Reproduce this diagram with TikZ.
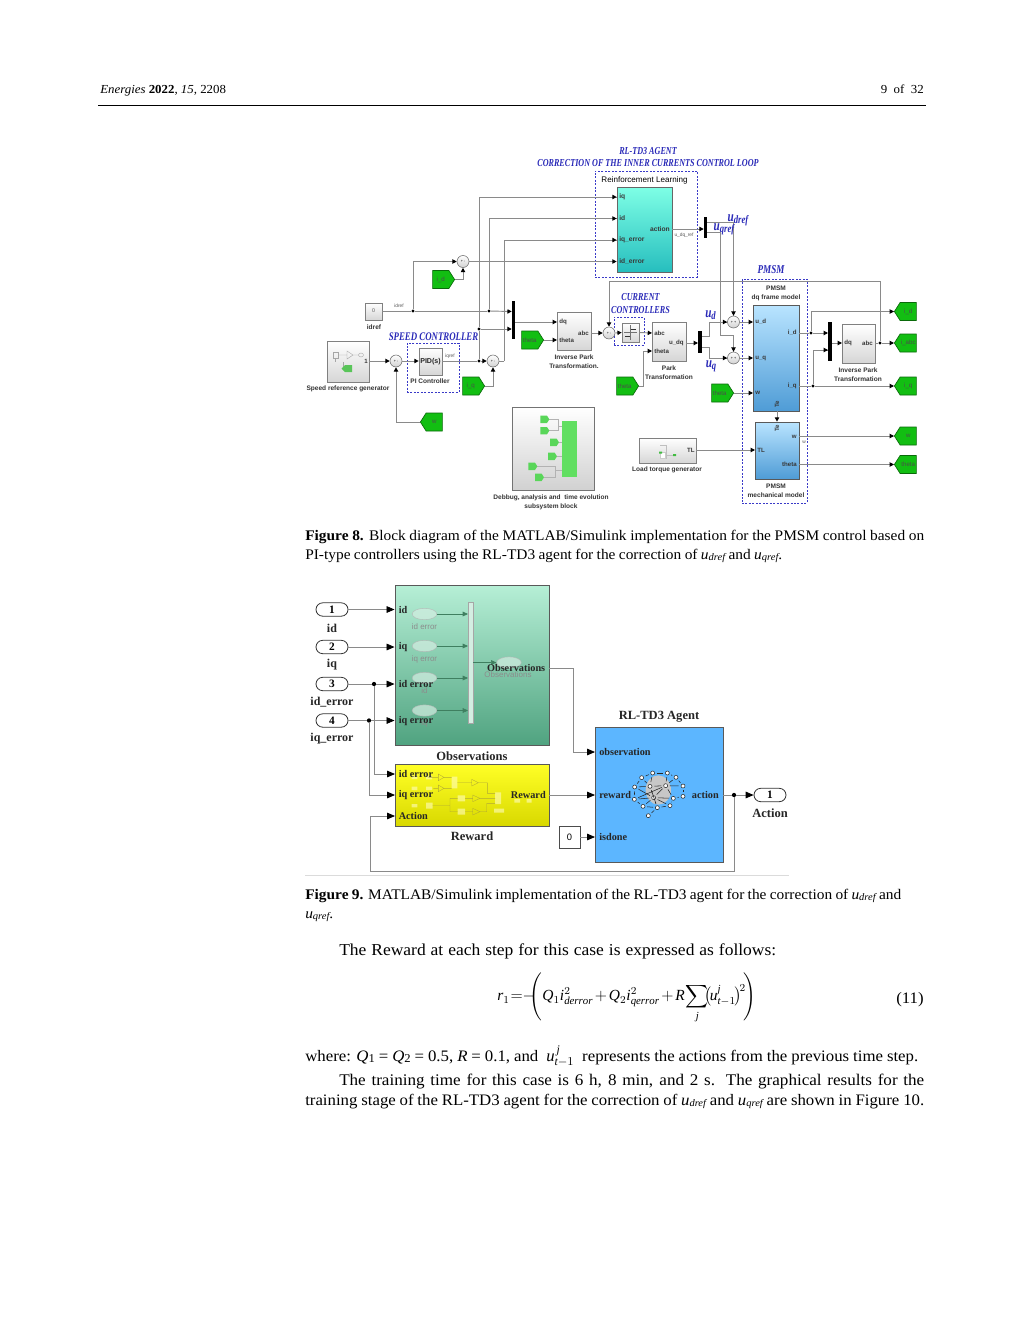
\documentclass[tikz,border=0pt]{standalone}
\usepackage{fontspec}
\usepackage{amsmath}
\usetikzlibrary{arrows.meta,shapes.symbols,shapes.geometric}
\setmainfont{Liberation Serif}
\setsansfont{Liberation Sans}
\newfontfamily\bodyf[FakeStretch=1.05]{Liberation Serif}
\newfontfamily\titlef[FakeStretch=0.76]{Liberation Serif}
\newcommand\fsz[1]{\fontsize{#1}{#1}\selectfont}
\newlength\pxunit \setlength\pxunit{0.75pt}
\newcommand\fitline[2]{\hbox to #1\pxunit{\spaceskip=0.24em plus 1fil minus 1fil\relax #2}}
\newcommand\usub[1]{{\itshape u\fsz{7.5}\raisebox{-0.8pt}{#1}}}
\definecolor{tagg}{HTML}{12BE12}
\definecolor{tagd}{HTML}{0A6A0A}
\definecolor{ttl}{HTML}{2A2AB8}
\definecolor{dashc}{HTML}{3A3AC8}
\definecolor{wiregray}{HTML}{8A8A8A}
\definecolor{dqtop}{HTML}{B9E4FF}
\definecolor{dqmid}{HTML}{A9DCFD}
\definecolor{dqbot}{HTML}{4F9CD6}
\definecolor{palegr}{HTML}{D4EEE2}
\tikzset{
  wire/.style={draw=wiregray,line width=.7pt},
  arr/.style={wire,-{Triangle[length=3.2pt,width=3.2pt,color=black]}},
  arrb/.style={draw=wiregray,line width=.6pt,-{Triangle[length=6pt,width=5pt,color=black]}},
  jdot/.style={circle,fill=black,inner sep=0pt,minimum size=2.4pt},
  jdotb/.style={circle,fill=black,inner sep=0pt,minimum size=3.2pt},
  sumn/.style={circle,draw=black!60,top color=white,bottom color=black!18,inner sep=0pt,minimum size=9pt,line width=.4pt,font=\sffamily\fsz{2.8}},
  blockn/.style={draw=black!50,line width=.5pt,inner sep=0pt,top color=white,bottom color=black!16},
  dashbox/.style={draw=dashc,dash pattern=on 1.5pt off 1.1pt,line width=.6pt,inner sep=0pt},
  gotag/.style={shape=signal,signal pointer angle=115,signal from=nowhere,draw=tagd,fill=tagg,line width=.5pt,inner sep=0pt,minimum width=16.5pt,minimum height=13.5pt,font=\sffamily\fsz{4.6}\color{black!70}},
  muxbar/.style={fill=black,draw=none,inner sep=0pt},
  sl/.style={font=\sffamily\bfseries\fsz{4.9},text=black!80,align=center,inner sep=0pt},
  pl/.style={font=\sffamily\bfseries\fsz{4.6},text=black!78,inner sep=0pt},
  tinyl/.style={font=\sffamily\fsz{3.6},text=black!65,inner sep=0pt},
  bt/.style={font=\titlef\bfseries\itshape\fsz{8},text=ttl,inner sep=0pt,align=center},
  ub/.style={font=\titlef\bfseries\itshape\fsz{11},text=ttl,inner sep=0pt},
  bl/.style={font=\bfseries\fsz{7.7},text=black!85,inner sep=0pt},
  bll/.style={font=\bfseries\fsz{9.4},text=black!85,inner sep=0pt},
  pilln/.style={rounded corners=5pt,draw=black!80,fill=white,line width=.6pt,inner sep=0pt,minimum width=24pt,minimum height=10pt,font=\bfseries\fsz{8.5}},
  txt/.style={font=\bodyf\fsz{12},inner sep=0pt,anchor=base west},
  capt/.style={font=\bodyf\fsz{11},inner sep=0pt,anchor=base west},
  ovaln/.style={ellipse,draw=black!30,fill=palegr,opacity=.7,inner sep=0pt,minimum width=18.5pt,minimum height=8.5pt},
  faint/.style={font=\sffamily\fsz{6},text=black!45,inner sep=0pt},
  arrg/.style={draw={rgb,255:red,63;green,127;blue,96},line width=.5pt,-{Triangle[length=4pt,width=3.5pt]}},
}
\newcommand\blk[6]{\node[#6,minimum width={(#4-#2)*0.75pt},minimum height={(#5-#3)*0.75pt}] (#1) at ({(#2+#4)/2},{(#3+#5)/2}) {};}
\begin{document}
\begin{tikzpicture}[x=.75pt,y=-.75pt]
\useasboundingbox (0,0) rectangle (1024,1325);
\fill[white] (0,0) rectangle (1024,1325);

% ---------- page header
\node[inner sep=0pt,anchor=base west,font=\bodyf\fsz{9.2}] (hdl) at (100,93) {\textit{Energies} \textbf{2022}, \textit{15}, 2208};
\node[inner sep=0pt,anchor=base east,font=\bodyf\fsz{9.2}] (hdr) at (924,93) {9\ \ of\ \ 32};
\coordinate (rule1) at (98,105.5); \coordinate (rule2) at (926,105.5);
\draw[line width=.6pt] (rule1) -- (rule2);

% ---------- FIGURE 8 titles
\node[bt] (t1) at (648,151) {RL-TD3 AGENT};
\node[bt] (t2) at (648,163.5) {CORRECTION OF THE INNER CURRENTS CONTROL LOOP};
\node[bt,font=\titlef\bfseries\itshape\fsz{9}] (t3) at (771,270) {PMSM};
\node[bt] (t4) at (640.5,297.5) {CURRENT};
\node[bt] (t5) at (640.5,310) {CONTROLLERS};
\node[bt,font=\titlef\bfseries\itshape\fsz{8.7}] (t6) at (433.5,336.5) {SPEED CONTROLLER};

% dashed groups
\blk{dRL}{595}{171}{697}{277}{dashbox}
\blk{dPMSM}{742}{279}{807}{503}{dashbox}
\blk{dCC}{614}{317}{644}{345}{dashbox}
\blk{dPI}{407}{343}{459}{392}{dashbox}

% blocks
\blk{rl}{617}{187}{672}{272}{draw=black!60,line width=.5pt,inner sep=0pt,top color=cyan!45!white!90!green,bottom color=cyan!70!black!85}
\node[font=\sffamily\fsz{6.05},text=black,inner sep=0pt] (rlt) at (644.5,180) {Reinforcement Learning};
\node[pl,anchor=west,font=\sffamily\bfseries\fsz{5}] (rl1) at (619,197) {iq};
\node[pl,anchor=west,font=\sffamily\bfseries\fsz{5}] (rl2) at (619,218.5) {id};
\node[pl,anchor=west,font=\sffamily\bfseries\fsz{5}] (rl3) at (619,240) {iq\_error};
\node[pl,anchor=west,font=\sffamily\bfseries\fsz{5}] (rl4) at (619,261.5) {id\_error};
\node[pl,anchor=east,font=\sffamily\bfseries\fsz{5}] (rl5) at (670,229) {action};
\node[tinyl] (rl6) at (684,235) {u\_dq\_ref};

\blk{cst}{365}{303}{382}{320}{blockn}
\node[tinyl,font=\sffamily\fsz{4}] (cst0) at (373.5,311) {0};
\node[sl] (cstl) at (374,327) {idref};
\node[tinyl] (idr) at (399,306) {idref};

\blk{spg}{327}{341}{369}{382}{blockn}
\node[pl,anchor=east] (spg1) at (368,361) {1};
\node[sl] (spgl) at (348,389) {Speed reference generator};
\draw[black!35,line width=.3pt] (333,352) rectangle (338,358) (335,358) -- (335,362);
\draw[black!35,line width=.3pt] (343,362) -- (343,369) -- (347,369);
\draw[black!35,line width=.3pt] (338,355) -- (347,355) (347,351) -- (353,355) -- (347,359) -- cycle (353,355) -- (359,355);
\draw[black!35,line width=.3pt] (361,355) ellipse (2.5 and 2);
\fill[green!65!black!65] (345,365) -- (352,365) -- (352,372) -- (345,372) -- (341.5,368.5) -- cycle;

\blk{pid}{419}{348}{442}{375}{blockn}
\node[font=\sffamily\bfseries\fsz{5.3},text=black!85,inner sep=0pt] (pidt) at (430.5,361.5) {PID(s)};
\node[sl] (pidl) at (430,381) {PI Controller};
\node[tinyl] (iqr) at (450,356) {iqref};

\node[sumn] (s1) at (463,261.5) {+\ -};
\node[sumn] (s2) at (396,361) {+\ -};
\node[sumn] (s3) at (493,361) {+\ -};
\node[sumn] (s4) at (609,333) {+\ -};
\node[sumn] (s5) at (733.5,322) {+\ +};
\node[sumn] (s6) at (733.5,358) {+\ +};

\node[gotag,signal to=east,anchor=east] (tid) at (455,279.5) {i\_d};
\node[gotag,signal to=east,anchor=east] (tiq) at (485,386) {i\_q};
\node[gotag,signal to=west,anchor=west] (tw) at (420,422) {w};
\node[gotag,signal to=east,anchor=east] (tth1) at (544,340) {theta};
\node[gotag,signal to=east,anchor=east] (tth2) at (639,386) {theta};
\node[gotag,signal to=east,anchor=east] (tth3) at (734,393) {theta};
\node[gotag,signal to=west,anchor=west] (oid) at (894,311.5) {i\_d};
\node[gotag,signal to=west,anchor=west] (oabc) at (894,343) {i\_abc};
\node[gotag,signal to=west,anchor=west] (oiq) at (894,386) {i\_q};
\node[gotag,signal to=west,anchor=west] (ow) at (894,436) {w};
\node[gotag,signal to=west,anchor=west] (oth) at (894,464.5) {theta};

\blk{mx1}{512}{301}{515}{339}{muxbar}
\blk{mx2}{704}{217}{707}{238}{muxbar}
\blk{mx3}{698}{331}{702}{353}{muxbar}
\blk{mx4}{828}{322}{832}{361}{muxbar}

\blk{ipk}{557}{312}{591}{350}{blockn}
\node[pl,anchor=west] (ipk1) at (559,322) {dq};
\node[pl,anchor=west] (ipk2) at (559,340) {theta};
\node[pl,anchor=east] (ipk3) at (589,333) {abc};
\node[sl] (ipkl) at (574,362) {Inverse Park\\[1.9pt]Transformation.};

\blk{rly}{622}{323}{639}{342}{blockn}
\draw[black!80,line width=.5pt] (625,336) -- (630,336) -- (630,329) -- (636,329);
\draw[black!55,line width=.25pt] (630,325) -- (630,340) (624,332.5) -- (637,332.5);

\blk{pk}{652}{322}{686}{361}{blockn}
\node[pl,anchor=west] (pk1) at (654,333) {abc};
\node[pl,anchor=west] (pk2) at (654,351) {theta};
\node[pl,anchor=east] (pk3) at (684,343) {u\_dq};
\node[sl] (pkl) at (669,373) {Park\\[1.9pt]Transformation};

\blk{dqm}{753}{305}{799}{411}{draw=black!65,line width=.5pt,inner sep=0pt,top color=dqtop,middle color=dqmid,bottom color=dqbot}
\node[sl] (dqml) at (776,293) {PMSM\\[1.9pt]dq frame model};
\node[pl,anchor=west] (dq1) at (755,322) {u\_d};
\node[pl,anchor=west] (dq2) at (755,358) {u\_q};
\node[pl,anchor=west] (dq3) at (755,393) {w};
\node[pl,anchor=east] (dq4) at (797,333) {i\_d};
\node[pl,anchor=east] (dq5) at (797,386) {i\_q};
\node[pl,rotate=90] (dq6) at (777,404) {Te};

\blk{mech}{755}{422}{799}{479}{draw=black!65,line width=.5pt,inner sep=0pt,top color=dqtop,middle color=dqmid,bottom color=dqbot}
\node[sl] (mechl) at (776,491) {PMSM\\[1.9pt]mechanical model};
\node[pl,rotate=90] (me1) at (777,428) {Te};
\node[pl,anchor=west] (me2) at (757,450) {TL};
\node[pl,anchor=east] (me3) at (797,437) {w};
\node[pl,anchor=east] (me4) at (797,464.5) {theta};
\node[tinyl] (me5) at (804,442) {w};

\blk{ltg}{639}{438}{696}{463}{blockn}
\node[pl,anchor=east] (ltg1) at (695,450) {TL};
\node[sl] (ltgl) at (667,470) {Load torque generator};
\draw[black!25,line width=.3pt] (660,445) -- (666,445) -- (666,455) -- (674,455) (666,455) -- (666,459);
\fill[white,draw=black!20,line width=.2pt] (660,452) rectangle (665,458);
\fill[green!65!black!75] (659,451.5) rectangle (662,453.5) (673,454) rectangle (676,456);

\blk{ipk2b}{842}{324}{875}{363}{blockn}
\node[pl,anchor=west] (ip1) at (844,343) {dq};
\node[pl,anchor=east] (ip2) at (873,343) {abc};
\node[sl] (ipl) at (858,375) {Inverse Park\\[1.9pt]Transformation};

\blk{dbg}{512}{407}{594}{490}{draw=black!55,line width=.6pt,inner sep=0pt,top color=white,bottom color=black!18}
\node[sl] (dbgl) at (551,502) {Debbug, analysis and\ \ time evolution\\[1.9pt]subsystem block};
\begin{scope}[shift={(300,140)},x=.25pt,y=-.25pt]
  \fill[green!80!black!62] (787,844) rectangle (830,1012);
  \draw[black!30,line width=.3pt] (748,838) -- (775,838) -- (775,860) -- (787,860) (748,872) -- (775,872) -- (775,860) (776,907) -- (787,907) (770,949) -- (787,949) (710,979) -- (765,979) -- (765,990) -- (787,990) (732,1012) -- (765,1012) -- (765,990);
  \foreach \a/\b in {721/838,721/872,750/907,744/949,685/979,705/1012}{
    \fill[green!75!black!65] (\a,\b-11) -- (\a+20,\b-11) -- (\a+27,\b) -- (\a+20,\b+11) -- (\a,\b+11) -- cycle;
  }
\end{scope}

% connector anchors for figure 8
\coordinate (p1) at (rl.west |- rl1); \coordinate (p2) at (rl.west |- rl2);
\coordinate (p3) at (rl.west |- rl3); \coordinate (p4) at (rl.west |- rl4);
\coordinate (rlo) at (672,229); \coordinate (mx2i) at (mx2.west |- rlo);
\coordinate (mx2a) at (707,222); \coordinate (mx2b) at (707,232);
\coordinate (bend1) at (720,335);
\coordinate (csto) at (382,311);
\node[jdot] (j1) at (413,311) {};
\node[jdot] (j2) at (489,311) {};
\node[jdot] (j3) at (479,329) {};
\node[jdot] (j4) at (479,361) {};
\coordinate (mx1a) at (mx1.west |- cst.east);
\coordinate (mx1b) at (mx1.west |- j3);
\coordinate (x504) at (504,361);
\coordinate (mx1o) at (515,322); \coordinate (ipki1) at (557,322); \coordinate (ipki2) at (557,340);
\coordinate (ipko) at (591,333);
\coordinate (top1) at (609,281); \coordinate (top2) at (880,281);
\node[jdot] (j5) at (880,343) {};
\coordinate (pki1) at (652,333); \coordinate (pki2) at (652,351); \coordinate (pko) at (686,343);
\coordinate (mx3i) at (698,343); \coordinate (mx3a) at (702,336); \coordinate (mx3b) at (702,347);
\coordinate (b709) at (709,336); \coordinate (b709b) at (709,347);
\coordinate (dqi1) at (753,322); \coordinate (dqi2) at (753,358); \coordinate (dqi3) at (753,393);
\coordinate (dqo1) at (799,333); \coordinate (dqo2) at (799,386);
\node[jdot] (j6) at (811,333) {};
\node[jdot] (j7) at (813,386) {};
\coordinate (mx4a) at (828,333); \coordinate (mx4b) at (828,350);
\coordinate (mx4o) at (832,343); \coordinate (ipi) at (842,343); \coordinate (ipo) at (875,343);
\coordinate (meo1) at (799,436); \coordinate (meo2) at (799,464.5);
\coordinate (mei) at (755,450); \coordinate (ltgo) at (696,450);

\draw[arr] (s1.east) -- (p4);
\draw[wire] (j4) -- (j3) |- (p1);
\draw[arr] (p1 -| j3) -- (p1);
\draw[wire] (j2) |- (p2); \draw[arr] (p2 -| j2) -- (p2);
\draw[wire] (x504) |- (p3); \draw[arr] (p3 -| x504) -- (p3);
\draw[wire] (s3.east) -- (x504);
\draw[arr] (j1) |- (s1.west);
\draw[arr] (tid.east) -| (s1.south);
\draw[wire] (csto) -- (j1) -- (j2);
\draw[arr] (j2) -- (mx1a);
\draw[arr] (j3) -- (mx1b);
\draw[arr] (mx1o) -- (ipki1);
\draw[arr] (tth1.east) -- (ipki2);
\draw[arr] (ipko) -- (s4.west);
\draw[arr] (spg.east |- s2) -- (s2.west);
\draw[arr] (tw.west) -| (s2.south);
\draw[arr] (s2.east) -- (pid.west |- s2);
\draw[wire] (pid.east |- s3) -- (j4);
\draw[arr] (j4) -- (s3.west);
\draw[arr] (tiq.east) -| (s3.south);
\draw[arr] (rlo) -- (mx2i);
\draw[wire] (mx2a) -| (s5.north);
\draw[arr] (s5.north |- 0,312) -- (s5.north);
\draw[wire] (mx2b) -| (bend1) -| (s6.north);
\draw[arr] (s6.north |- bend1) -- (s6.north);
\draw[wire] (top2) -- (top1);
\draw[arr] (top1) -- (s4.north);
\draw[wire] (j5) -- (top2);
\draw[arr] (s4.east) -- (rly.west);
\draw[arr] (rly.east) -- (pki1);
\draw[wire] (tth2.east) -| (643,351);
\draw[arr] (643,351) -- (pki2);
\draw[arr] (pko) -- (mx3i);
\draw[wire] (mx3a) -- (b709) |- (s5.west);
\draw[arr] (b709 |- s5) -- (s5.west);
\draw[wire] (mx3b) -- (b709b) |- (s6.west);
\draw[arr] (b709b |- s6) -- (s6.west);
\draw[arr] (s5.east) -- (dqi1);
\draw[arr] (s6.east) -- (dqi2);
\draw[arr] (tth3.east) -- (dqi3);
\draw[arr] (dqm.south -| me1) -- (mech.north -| me1);
\draw[wire] (dqo1) -- (j6);
\draw[arr] (j6) -- (mx4a);
\draw[wire] (j6) |- (oid.west);
\draw[arr] (j6 |- oid) -- (oid.west);
\draw[wire] (dqo2) -- (j7);
\draw[arr] (j7) -- (oiq.west);
\draw[wire] (j7) |- (mx4b);
\draw[arr] (j7 |- mx4b) -- (mx4b);
\draw[arr] (mx4o) -- (ipi);
\draw[wire] (ipo) -- (j5);
\draw[arr] (j5) -- (oabc.west);
\draw[arr] (meo1) -- (ow.west);
\draw[arr] (meo2) -- (oth.west);
\draw[arr] (ltgo) -- (mei);

% ---------- captions fig 8
\node[capt] (c81) at (305,540) {\fitline{619}{\textbf{Figure 8.} Block diagram of the MATLAB/Simulink implementation for the PMSM control based on}};
\node[capt] (c82) at (305,559) {\fitline{477}{PI-type controllers using the RL-TD3 agent for the correction of \usub{dref} and \usub{qref}.}};

% ---------- FIGURE 9
\blk{obs}{395}{585}{549}{745}{draw=black!65,line width=.7pt,inner sep=0pt,top color={rgb,255:red,182;green,239;blue,214},bottom color={rgb,255:red,80;green,163;blue,128}}
\blk{rew}{395}{764}{549}{826}{draw=black!65,line width=.7pt,inner sep=0pt,top color=yellow!85!white,bottom color=yellow!85!black}
\blk{agt}{595}{727}{723}{862}{draw=black!65,line width=.7pt,inner sep=0pt,fill={rgb,255:red,92;green,182;blue,255}}

\foreach \n/\y/\t/\l/\ly in {1/609.5/1/id/628,2/647/2/iq/665,3/684/3/id\_error/702,4/720.5/4/iq\_error/739}{
  \node[pilln] (in\n) at (332,\y) {\t};
  \node[bll,font=\bfseries\fsz{9}] (inl\n) at (332,\ly) {\l};
}
\node[pilln] (outp) at (770,795) {1};
\node[bll] (outl) at (770,813) {Action};
\node[bll] (obsl) at (472,756) {Observations};
\node[bll] (rewl) at (472,836) {Reward};
\node[bll] (agtl) at (659,717) {RL-TD3 Agent};

\foreach \n/\y/\t/\ly in {1/614/id error/627,2/646/iq error/659,3/678/id/691,4/710.5/iq/723}{
  \node[ovaln] (ov\n) at (424.5,\y) {};
  \node[faint] (ovl\n) at (424.5,\ly) {\t};
  \coordinate (ovm\n) at (468,\y);
  \draw[arrg] (ov\n.east) -- (ovm\n);
}
\blk{omx}{468}{602}{473}{723}{draw=black!35,line width=.4pt,inner sep=0pt,fill=palegr}
\node[ovaln] (ovo) at (509,662.5) {};
\coordinate (omxo) at (473,662.5);
\draw[arrg] (omxo) -- (ovo.west);
\node[faint] (o6) at (508,675) {Observations};
\node[bl,anchor=west] (o1) at (398.5,609.5) {id};
\node[bl,anchor=west] (o2) at (398.5,647) {iq};
\node[bl,anchor=west] (o3) at (398.5,684) {id error};
\node[bl,anchor=west] (o4) at (398.5,721) {iq error};
\node[bl,anchor=east] (o5) at (545.5,668) {Observations};

\begin{scope}[shift={(300,580)},x=.25pt,y=-.25pt,line width=.25pt]
  \fill[yellow!25!white,opacity=.6] (455,590) rectangle (472,625) (585,637) rectangle (603,672) (582,686) rectangle (612,698) (473,646) rectangle (495,664) (473,686) rectangle (495,704) (378,668) rectangle (398,686) (335,587) rectangle (352,597) (335,620) rectangle (352,630) (335,672) rectangle (352,682) (378,587) rectangle (396,598) (378,620) rectangle (396,630) (643,657) rectangle (660,668) (680,657) rectangle (695,668);
  \draw[draw=olive!70] (385,592) -- (415,592) (415,582) -- (432,592) -- (415,602) -- cycle;
  \draw[draw=olive!70] (400,625) -- (415,625) (415,615) -- (432,625) -- (415,635) -- cycle;
  \draw[draw=olive!70] (432,592) -- (455,592) (432,625) -- (455,625) (472,608) -- (515,608) (515,598) -- (535,608) -- (515,618) -- cycle (535,608) -- (562,608) -- (562,640) -- (585,640);
  \draw[draw=olive!70] (398,677) -- (430,677) (430,677) -- (450,677) -- (450,655) -- (473,655) (450,677) -- (450,695) -- (473,695) (495,655) -- (518,655) (495,695) -- (518,695) (518,645) -- (540,655) -- (518,665) -- cycle (518,685) -- (540,695) -- (518,705) -- cycle (540,655) -- (585,655) (540,695) -- (560,695) -- (560,670) -- (585,670);
\end{scope}
\node[bl,anchor=west] (r1) at (398.5,774) {id error};
\node[bl,anchor=west] (r2) at (398.5,795) {iq error};
\node[bl,anchor=west] (r3) at (398.5,816) {Action};
\node[bl,anchor=east] (r4) at (546,795) {Reward};

\node[bl,anchor=west] (a1) at (599,752) {observation};
\node[bl,anchor=west] (a2) at (599,795) {reward};
\node[bl,anchor=west] (a3) at (599,837) {isdone};
\node[bl,anchor=east] (a4) at (719,795) {action};
\begin{scope}[shift={(550,700)},x=.25pt,y=-.25pt]
  \fill[black!22] (325,270) ellipse (38 and 44);
  \foreach \n/\a/\b in {1/275/233,2/308/219,3/352/219,4/378/232,5/399/258,6/399/289,7/370/295,8/360/317,9/322/323,10/279/319,11/253/298,12/254/261,13/300/259,14/347/257,15/311/293,16/295/347}{
    \node[circle,draw=black!85,fill=white,line width=.4pt,inner sep=0pt,minimum size=3pt] (bn\n) at (\a,\b) {};
  }
  \foreach \a/\b in {1/2,2/3,3/4,4/5,5/6,6/7,7/8,8/9,9/10,10/11,11/12,12/1,12/13,1/13,2/13,13/14,14/3,14/4,14/7,13/15,15/7,15/11,11/14,15/9,9/16,10/15,14/15,5/14,12/15,15/8,13/9}{
    \draw[black!85,line width=.4pt,shorten >=1.5pt,shorten <=1.5pt] (bn\a) -- (bn\b);
  }
\end{scope}

\blk{zero}{559}{826}{580}{848}{draw=black!70,fill=white,line width=.6pt,inner sep=0pt}
\node[font=\sffamily\fsz{7},inner sep=0pt] (zerot) at (569.5,837) {0};

\node[jdotb] (bj3) at (374,684) {};
\node[jdotb] (bj4) at (369,720.5) {};
\node[jdotb] (bjo) at (734,795) {};
\coordinate (obsp1) at (obs.west |- in1); \coordinate (obsp2) at (obs.west |- in2);
\coordinate (obsp3) at (obs.west |- in3); \coordinate (obsp4) at (obs.west |- in4);
\coordinate (rewp1) at (395,774); \coordinate (rewp2) at (395,795); \coordinate (rewp3) at (395,816);
\coordinate (obso) at (549,668); \coordinate (obsb) at (573,668);
\coordinate (agp1) at (595,752); \coordinate (agp2) at (595,795); \coordinate (agp3) at (595,837);
\coordinate (rewo) at (549,795); \coordinate (agto) at (723,795);
\coordinate (fb1) at (734,871); \coordinate (fb2) at (370.5,871);

\draw[arrb] (in1.east) -- (obsp1);
\draw[arrb] (in2.east) -- (obsp2);
\draw[wire,line width=.6pt] (in3.east) -- (bj3);
\draw[arrb] (bj3) -- (obsp3);
\draw[wire,line width=.6pt] (in4.east) -- (bj4);
\draw[arrb] (bj4) -- (obsp4);
\draw[arrb] (bj3) |- (rewp1);
\draw[arrb] (bj4) |- (rewp2);
\draw[arrb] (bjo) -- (fb1) -- (fb2) |- (rewp3);
\draw[arrb] (obso) -- (obsb) |- (agp1);
\draw[arrb] (rewo) -- (agp2);
\draw[arrb] (zero.east) -- (agp3);
\draw[wire,line width=.6pt] (agto) -- (bjo);
\draw[arrb] (bjo) -- (outp.west);

\coordinate (hl1) at (305,875.5); \coordinate (hl2) at (789,875.5);
\draw[black!14,line width=.6pt] (hl1) -- (hl2);

% ---------- captions fig 9
\node[capt] (c91) at (305,899) {\fitline{596}{\textbf{Figure 9.} MATLAB/Simulink implementation of the RL-TD3 agent for the correction of \usub{dref} and}};
\node[capt] (c92) at (305,918) {\usub{qref}.};

% ---------- body text
\node[txt,font=\bodyf\fsz{12.5}] (b1) at (339,955) {\fitline{437}{The Reward at each step for this case is expressed as follows:}};
\node[inner sep=0pt,anchor=west,font=\fsz{11.6}] (eq) at (497,998) {$\displaystyle \mathit{r}_{1}\mskip1mu{=}\mskip0mu{-}\mskip-9mu\left(\rule[-16pt]{0pt}{37pt}\mathit{Q}_{1}\mathit{i}^{2}_{\mathit{derror}}\mskip2mu{+}\mskip2mu\mathit{Q}_{2}\mathit{i}^{2}_{\mathit{qerror}}\mskip2mu{+}\mskip2mu\mathit{R}\mskip-2mu\sum_{\mathit{j}}\mskip-5mu\bigl(\mskip-2mu\mathit{u}^{\mathit{j}}_{\mathit{t}-1}\mskip-2mu\bigr)^{\!2}\mskip-3mu\right)$};
\node[inner sep=0pt,anchor=base east,font=\bodyf\fsz{12}] (eqn) at (924,1003) {(11)};
\node[txt] (b2) at (305,1061) {\fitline{613}{where: \textit{Q}\fsz{9}\raisebox{-1pt}{1}\fsz{12} = \textit{Q}\fsz{9}\raisebox{-1pt}{2}\fsz{12} = 0.5, \textit{R} = 0.1, and \ \fsz{12.5}$\mathit{u}^{\,\mathit{j}}_{\mathit{t}-1}$\fsz{12}\ \ represents the actions from the previous time step.}};
\node[txt,font=\bodyf\fsz{12.2}] (b3) at (339,1085) {\fitline{585}{The training time for this case is 6 h, 8 min, and 2 s. The graphical results for the}};
\node[txt] (b4) at (305,1105) {\fitline{619}{training stage of the RL-TD3 agent for the correction of \usub{dref} and \usub{qref} are shown in Figure 10.}};

% ---------- u labels
\node[ub] (u1) at (738,220) {u\raisebox{-1.5pt}{\fsz{8.5}dref}};
\node[ub] (u2) at (724,229) {u\raisebox{-1.5pt}{\fsz{8.5}qref}};
\node[ub] (u3) at (710.5,315) {u\raisebox{-1.5pt}{\fsz{8.5}d}};
\node[ub] (u4) at (711,366) {u\raisebox{-1.5pt}{\fsz{8.5}q}};
\end{tikzpicture}
\end{document}
